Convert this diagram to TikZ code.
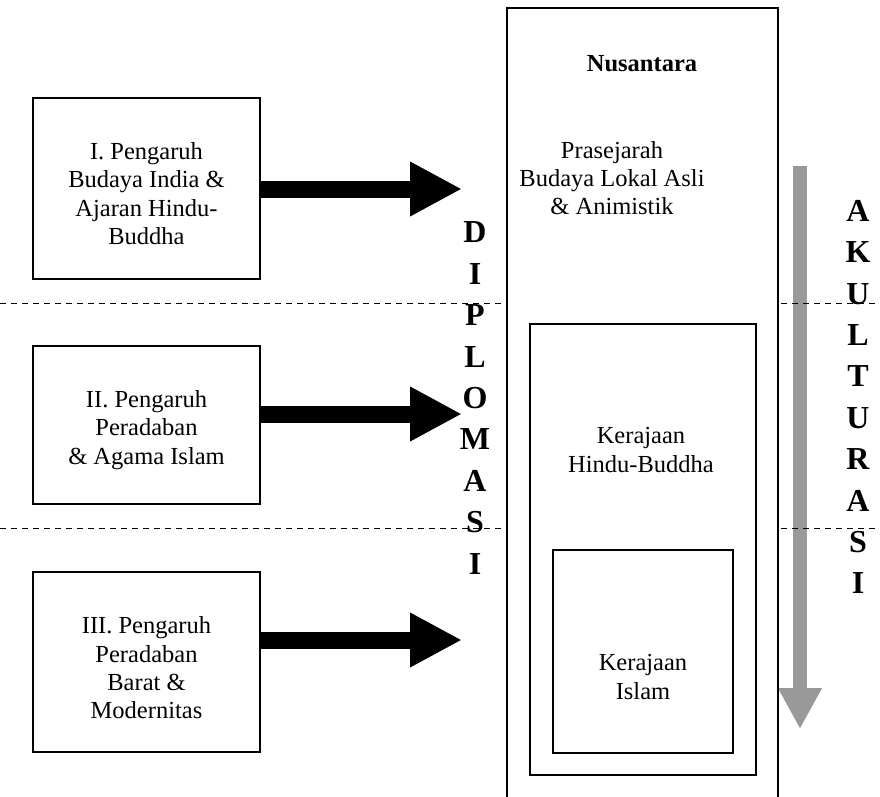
\documentclass[tikz,border=0pt]{standalone}
\usepackage{fontspec}
\setmainfont{Liberation Serif}
\usetikzlibrary{arrows.meta}
\begin{document}
\begin{tikzpicture}[x=1pt,y=-1pt,
    every node/.style={font=\fontsize{24.5pt}{28.3pt}\selectfont,align=center,inner sep=0pt},
    srcbox/.style={draw,line width=1.2pt,minimum width=227pt},
    frame/.style={draw,line width=1.2pt,fill=white},
    periode/.style={dash pattern=on 6pt off 5pt,line width=1pt},
    blockarrow/.style={line width=17pt,-{Triangle[length=52pt,width=51pt]}},
    vword/.style={font=\fontsize{32pt}{41.4pt}\selectfont\bfseries}]
  \useasboundingbox (0,0) rectangle (880,797);
  \clip (0,0) rectangle (880,797);

  % arah akulturasi
  \coordinate (ak top) at (800,166);
  \coordinate (ak end) at (800,729);
  \draw[line width=14pt,black!40,-{Triangle[length=41pt,width=41pt]}] (ak top) -- (ak end);

  % batas periode
  \draw[periode] (0,303) -- (880,303);
  \draw[periode] (0,528) -- (880,528);

  % pengaruh luar
  \node[srcbox,minimum height=181pt] (india) at (146.5,188.5) {};
  \node[srcbox,minimum height=158pt] (islam) at (146.5,425) {};
  \node[srcbox,minimum height=180pt] (barat) at (146.5,662) {};
  \node (india text) at ([yshift=-5pt]india.center) {I. Pengaruh\\Budaya India \&\\Ajaran Hindu-\\Buddha};
  \node (islam text) at ([yshift=-5pt]islam.center) {II. Pengaruh\\Peradaban\\\& Agama Islam};
  \node (barat text) at ([yshift=-6pt]barat.center) {III. Pengaruh\\Peradaban\\Barat \&\\Modernitas};

  % nusantara
  \node[frame,minimum width=271pt,minimum height=802pt] (nus) at (642.5,409) {};
  \node[frame,minimum width=226pt,minimum height=451pt] (hb) at (643,549.5) {};
  \node[frame,minimum width=180pt,minimum height=203pt] (isl) at (643,651.5) {};
  \node[font=\fontsize{24.5pt}{28.3pt}\selectfont\bfseries] (nus title) at (642,64) {Nusantara};
  \node (pra) at (612,178) {Prasejarah\\Budaya Lokal Asli\\\& Animistik};
  \node (hb text) at (641,450) {Kerajaan\\Hindu-Buddha};
  \node (isl text) at (643,677) {Kerajaan\\Islam};

  % panah pengaruh
  \coordinate (t1) at (462,189);
  \coordinate (t2) at (462,414);
  \coordinate (t3) at (462,640);
  \draw[blockarrow] (india.east |- t1) -- (t1);
  \draw[blockarrow] (islam.east |- t2) -- (t2);
  \draw[blockarrow] (barat.east |- t3) -- (t3);

  \node[vword] (diplomasi) at (475,398) {D\\I\\P\\L\\O\\M\\A\\S\\I};
  \node[vword] (akulturasi) at (858,397) {A\\K\\U\\L\\T\\U\\R\\A\\S\\I};
\end{tikzpicture}
\end{document}
